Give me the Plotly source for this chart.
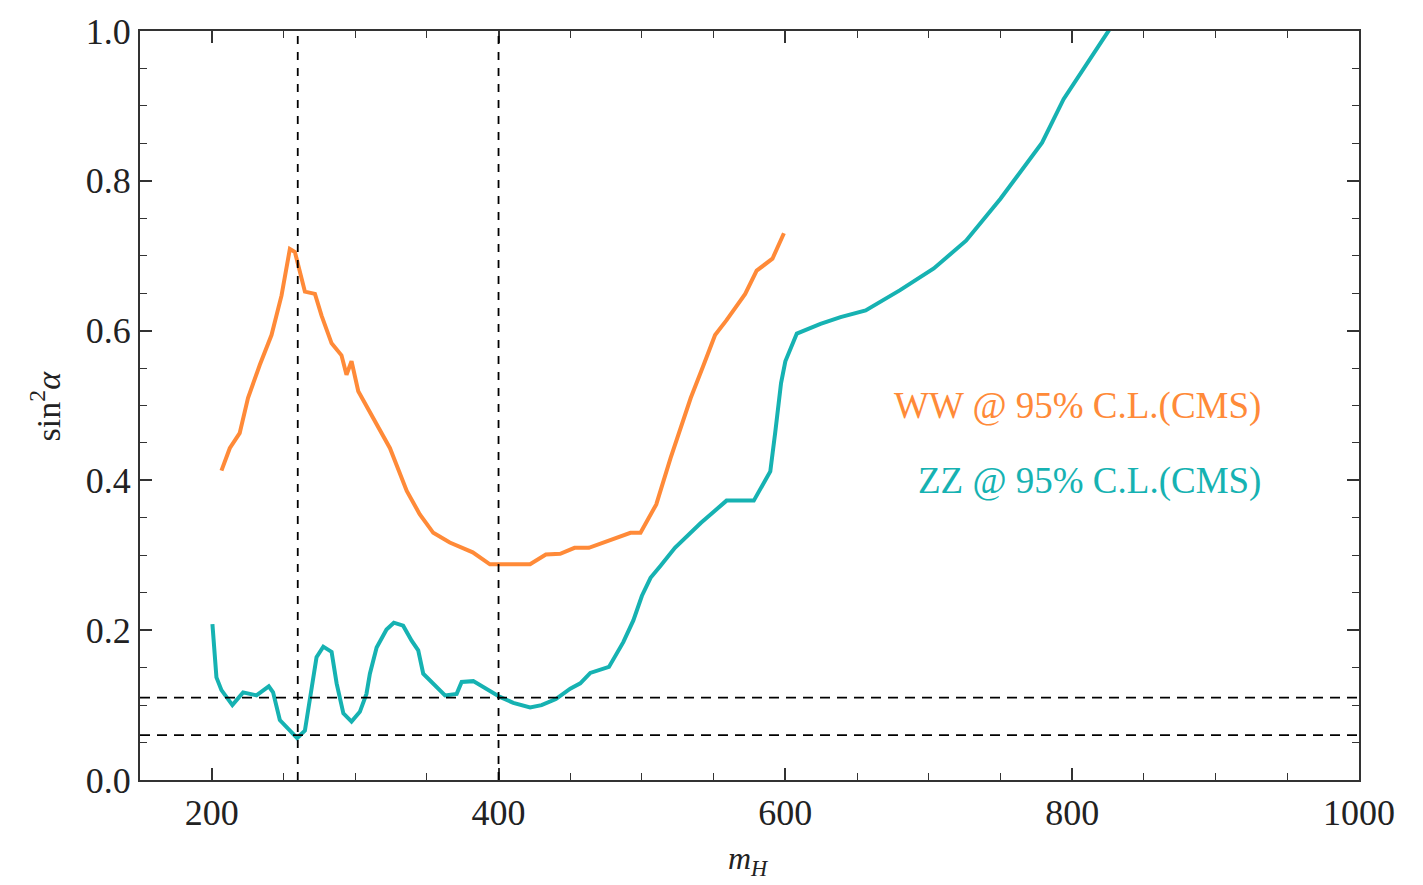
import plotly.graph_objects as go

# Upper limits on sin^2(alpha) versus heavy Higgs mass m_H
zz_mass = [200.5, 203.3, 206.8, 214.4, 221.9, 231.2, 239.8, 242.8, 247.5, 254.5,
           259.6, 265.0, 269.6, 273.1, 277.8, 283.6, 287.1, 291.8, 297.5, 303.3,
           307.9, 310.3, 315.0, 321.9, 327.0, 333.5, 339.4, 344.0, 347.5, 354.5,
           362.7, 370.8, 374.3, 382.4, 389.4, 401.0, 410.3, 422.0, 430.0, 440.0,
           450.0, 457.0, 464.0, 477.0, 487.0, 494.0, 500.0, 506.0, 513.0, 523.0,
           541.0, 559.0, 578.0, 589.5, 593.0, 597.0, 600.0, 608.0, 624.5, 638.5,
           656.0, 680.0, 703.5, 726.0, 750.0, 779.0, 794.0, 801.0, 826.0]
zz_limit = [0.208, 0.137, 0.120, 0.100, 0.117, 0.113, 0.125, 0.117, 0.080, 0.066,
            0.056, 0.066, 0.124, 0.164, 0.178, 0.171, 0.129, 0.089, 0.078, 0.091,
            0.115, 0.142, 0.177, 0.201, 0.210, 0.206, 0.186, 0.173, 0.142, 0.129,
            0.113, 0.115, 0.131, 0.132, 0.124, 0.111, 0.103, 0.097, 0.100, 0.108,
            0.122, 0.129, 0.143, 0.151, 0.184, 0.213, 0.246, 0.270, 0.286, 0.310,
            0.343, 0.373, 0.373, 0.412, 0.465, 0.530, 0.559, 0.596, 0.609, 0.618,
            0.627, 0.654, 0.683, 0.720, 0.776, 0.851, 0.909, 0.929, 1.002]

ww_mass = [206.8, 212.6, 219.5, 225.3, 233.5, 241.7, 248.7, 254.5, 258.0, 265.0,
           272.0, 276.6, 283.6, 290.5, 294.0, 297.5, 302.2, 315.0, 324.3, 336.0,
           345.0, 354.5, 366.0, 382.0, 394.0, 422.0, 433.0, 443.0, 453.0, 463.0,
           492.0, 499.0, 510.0, 520.0, 534.0, 543.0, 551.0, 559.0, 572.0, 580.0,
           591.0, 599.0]
ww_limit = [0.413, 0.443, 0.463, 0.510, 0.554, 0.594, 0.647, 0.709, 0.705, 0.652,
            0.649, 0.620, 0.583, 0.567, 0.541, 0.559, 0.519, 0.474, 0.443, 0.386,
            0.355, 0.330, 0.317, 0.304, 0.288, 0.288, 0.301, 0.302, 0.310, 0.310,
            0.330, 0.330, 0.368, 0.430, 0.510, 0.554, 0.594, 0.614, 0.649, 0.680,
            0.696, 0.730]

ref_masses = [260, 400]
ref_values = [0.11, 0.06]

x_ticks = [200, 400, 600, 800, 1000]
y_ticks = [0.0, 0.2, 0.4, 0.6, 0.8, 1.0]

WW_COLOR = "rgb(255,138,56)"
ZZ_COLOR = "rgb(22,178,178)"
FONT = "Liberation Serif, Times New Roman, serif"

fig = go.Figure()
fig.add_trace(go.Scatter(x=ww_mass, y=ww_limit, mode="lines",
                         line=dict(color=WW_COLOR, width=4), showlegend=False))
fig.add_trace(go.Scatter(x=zz_mass, y=zz_limit, mode="lines",
                         line=dict(color=ZZ_COLOR, width=4), showlegend=False))

for m in ref_masses:
    fig.add_shape(type="line", xref="x", yref="paper", x0=m, x1=m, y0=0, y1=1,
                  line=dict(color="black", width=1.8, dash="8px,8px"), layer="above")
for v in ref_values:
    fig.add_shape(type="line", xref="paper", yref="y", x0=0, x1=1, y0=v, y1=v,
                  line=dict(color="black", width=1.8, dash="10px,7px"), layer="above")

fig.add_annotation(x=933, y=0.5, xref="x", yref="y", xanchor="right", yanchor="middle",
                   text="WW @ 95% C.L.(CMS)", showarrow=False,
                   font=dict(family=FONT, size=37, color=WW_COLOR))
fig.add_annotation(x=933, y=0.399, xref="x", yref="y", xanchor="right", yanchor="middle",
                   text="ZZ @ 95% C.L.(CMS)", showarrow=False,
                   font=dict(family=FONT, size=37, color=ZZ_COLOR))

# axis titles
fig.add_annotation(x=-0.078, y=0.5, xref="paper", yref="paper", textangle=-90,
                   xanchor="center", yanchor="middle",
                   text="sin<sup>2</sup><i>α</i>", showarrow=False,
                   font=dict(family=FONT, size=34, color="#222"))
fig.add_annotation(x=0.499, y=-0.108, xref="paper", yref="paper",
                   xanchor="center", yanchor="middle",
                   text="<i>m<sub>H</sub></i>", showarrow=False,
                   font=dict(family=FONT, size=32, color="#222"))

axis_common = dict(showgrid=False, zeroline=False, showline=True, linecolor="#333",
                   linewidth=2, mirror="ticks", ticks="inside", ticklen=12,
                   tickwidth=1.5, tickcolor="#333",
                   tickfont=dict(family=FONT, size=36, color="#222"))

fig.update_xaxes(range=[150, 1000], tickvals=x_ticks,
                 ticktext=[str(t) for t in x_ticks],
                 minor=dict(dtick=50, tick0=0, ticks="inside", ticklen=7,
                            tickwidth=1.2, tickcolor="#333"),
                 **axis_common)
fig.update_yaxes(range=[0, 1], tickvals=y_ticks,
                 ticktext=[f"{t:.1f}" for t in y_ticks],
                 minor=dict(dtick=0.05, tick0=0, ticks="inside", ticklen=7,
                            tickwidth=1.2, tickcolor="#333"),
                 **axis_common)

fig.update_layout(width=1423, height=885, plot_bgcolor="white", paper_bgcolor="white",
                  margin=dict(l=140, r=64, t=28, b=105), showlegend=False)

fig.write_html("out.html")
